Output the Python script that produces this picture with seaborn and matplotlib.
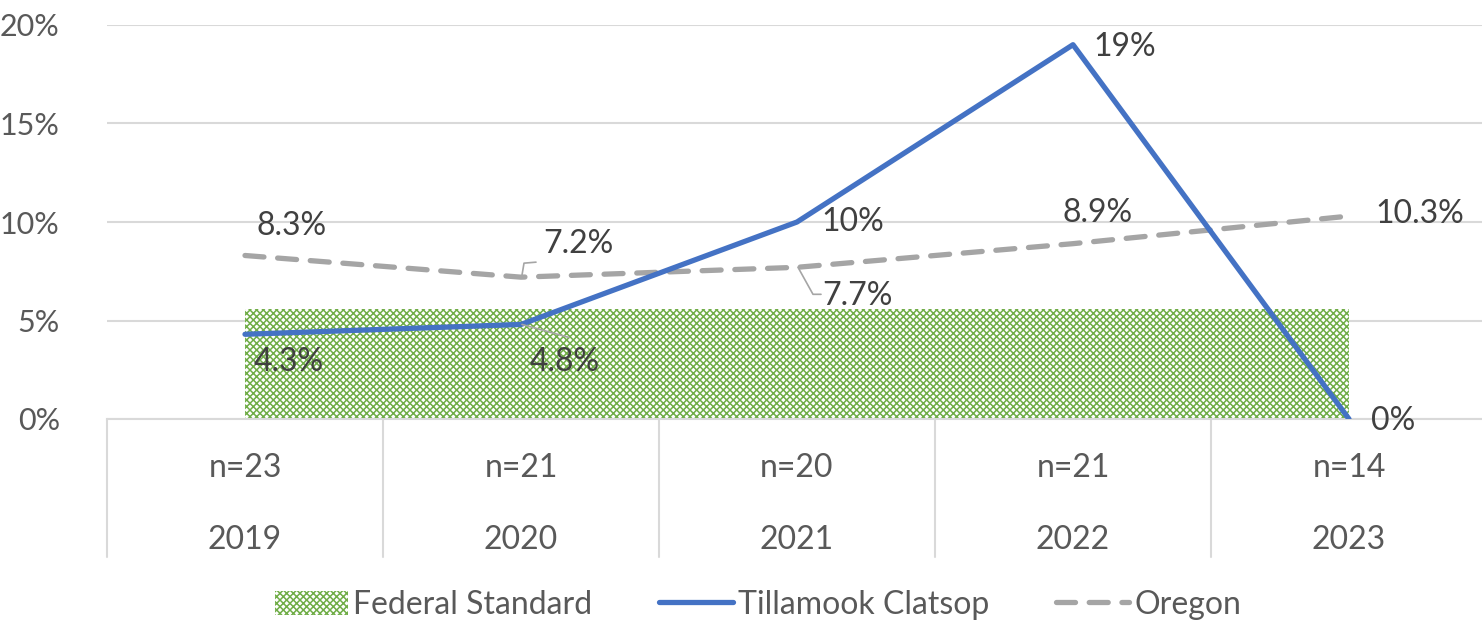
import matplotlib
matplotlib.use("Agg")
import matplotlib.pyplot as plt
import matplotlib.transforms as mtransforms
from matplotlib.patches import Patch
from matplotlib.lines import Line2D
import seaborn as sns
import pandas as pd

# -------------------------
# Data
# -------------------------
years = ["2019", "2020", "2021", "2022", "2023"]
n_labels = ["n=23", "n=21", "n=20", "n=21", "n=14"]
tillamook = [4.3, 4.8, 10.0, 19.0, 0.0]
oregon = [8.3, 7.2, 7.7, 8.9, 10.3]
federal_standard = 5.6

tillamook_labels = ["4.3%", "4.8%", "10%", "19%", "0%"]
oregon_labels = ["8.3%", "7.2%", "7.7%", "8.9%", "10.3%"]

df = pd.DataFrame({"pos": range(len(years)), "year": years,
                   "Tillamook Clatsop": tillamook, "Oregon": oregon})

# -------------------------
# Style
# -------------------------
sns.set_style("white")
plt.rcParams["font.family"] = ["Lato", "DejaVu Sans"]
plt.rcParams["hatch.linewidth"] = 1.1

blue = "#4472C4"
gray = "#A5A5A5"
green = "#70AD47"
tick_col = "#595959"
lab_col = "#404040"
grid_col = "#D9D9D9"
fs = 23
lw = 3.8
dash = [3.6, 2.6]

fig = plt.figure(figsize=(14.82, 6.22), dpi=100)
ax = fig.add_axes([107 / 1482, 203 / 622, 1380 / 1482, 394 / 622])

# federal standard band
ax.fill_between(df["pos"], 0, federal_standard, facecolor="#ffffff",
                edgecolor=green, hatch="xxxxx", linewidth=0, zorder=1)

sns.lineplot(data=df, x="pos", y="Oregon", ax=ax, color=gray, linewidth=lw,
             zorder=3)
ax.lines[-1].set_dashes(dash)
ax.lines[-1].set_dash_capstyle("round")
sns.lineplot(data=df, x="pos", y="Tillamook Clatsop", ax=ax, color=blue,
             linewidth=lw, zorder=4)

ax.set_xlim(-0.5, 4.5)
ax.set_ylim(0, 20)
ax.set_yticks([0, 5, 10, 15, 20])
ax.set_yticklabels(["0%", "5%", "10%", "15%", "20%"], fontsize=22, color=tick_col)
ax.tick_params(axis="y", length=0, pad=34)
ax.set_xticks([])
ax.set_xlabel("")
ax.set_ylabel("")
ax.yaxis.grid(True, color=grid_col, linewidth=1.5)
ax.set_axisbelow(True)
for side in ["top", "right", "left"]:
    ax.spines[side].set_visible(False)
ax.spines["bottom"].set_color(grid_col)
ax.spines["bottom"].set_linewidth(1.5)

# -------------------------
# Two-level category axis
# -------------------------
trans = mtransforms.blended_transform_factory(ax.transData, ax.transAxes)
for i in range(len(years)):
    ax.text(i, -49 / 394, n_labels[i], transform=trans, ha="center", va="center",
            fontsize=fs, color=tick_col)
    ax.text(i, -121 / 394, years[i], transform=trans, ha="center", va="center",
            fontsize=fs, color=tick_col)
for b in [-0.5, 0.5, 1.5, 2.5, 3.5, 4.5]:
    ax.plot([b, b], [0, -138 / 394], transform=trans, color=grid_col,
            linewidth=1.5, clip_on=False)

# -------------------------
# Data labels (offsets in pixels, y down)
# -------------------------
till_off = [(9, 28), (9, 38), (24, 0), (20, 2), (22, 2)]
ore_off = [(12, -29), (22, -33), (25, 29), (-10, -31), (26, -2)]


def put_label(x, y, txt, off):
    ax.annotate(txt, (x, y), xytext=(off[0], -off[1]), textcoords="offset pixels",
                ha="left", va="center", fontsize=fs, color=lab_col, zorder=6)


for i in range(len(years)):
    put_label(i, tillamook[i], tillamook_labels[i], till_off[i])
    put_label(i, oregon[i], oregon_labels[i], ore_off[i])

# leader lines
fig.canvas.draw()
ident = mtransforms.IdentityTransform()


def leader(x, y, offs):
    px, py = ax.transData.transform((x, y))
    xs = [px + o[0] for o in offs]
    ys = [py - o[1] for o in offs]
    ax.plot(xs, ys, transform=ident, color=gray, linewidth=1.2, zorder=5,
            clip_on=False)


leader(1, oregon[1], [(1, -2), (3, -14), (15, -15)])
leader(2, oregon[2], [(1, 0), (16, 27), (24, 27)])
leader(1, tillamook[1], [(1, 0), (48, 13)])

# -------------------------
# Legend
# -------------------------
handles = [
    Patch(facecolor="#ffffff", edgecolor=green, hatch="xxxxx", linewidth=0),
    Line2D([], [], color=blue, linewidth=lw),
    Line2D([], [], color=gray, linewidth=lw, dashes=dash,
           dash_capstyle="round"),
]
fig.legend(handles, ["Federal Standard", "Tillamook Clatsop", "Oregon"],
           loc="center", bbox_to_anchor=(758 / 1482, 1 - 605 / 622), ncol=3,
           frameon=False, fontsize=fs, labelcolor=tick_col, handlelength=2.3,
           handleheight=0.8, handletextpad=0.15, columnspacing=2.1)

plt.savefig("out.png", dpi=100)
